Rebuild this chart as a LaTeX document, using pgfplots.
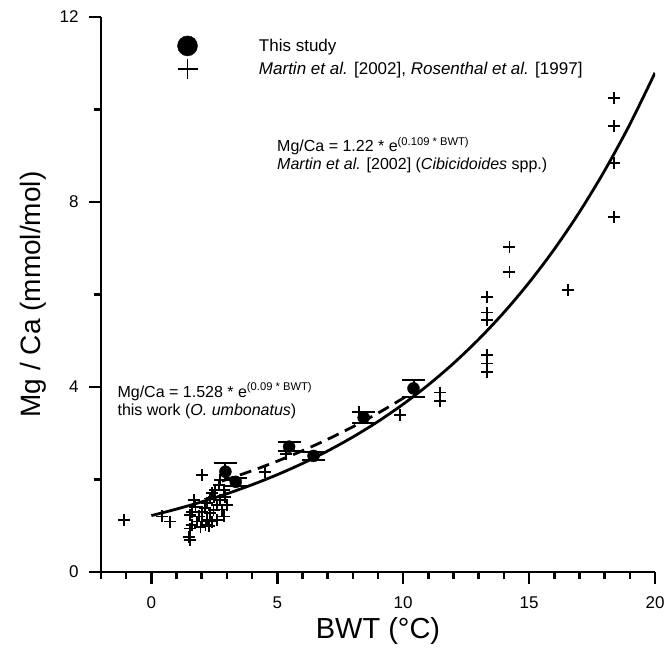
\documentclass[border=0pt]{standalone}
\usepackage{pgfplots}
\pgfplotsset{compat=1.18}
\usepackage{fontspec}
\setmainfont{Liberation Sans}
\begin{document}
\begin{tikzpicture}
\useasboundingbox (-101pt,-78pt) rectangle (565pt,572pt);
\begin{axis}[
 scale only axis, width=554pt, height=555pt,
 xmin=-2, xmax=20, ymin=0, ymax=12,
 axis lines=left, axis line style={line width=2.6pt, -},
 xtick={0,5,10,15,20}, minor xtick={-2,-1,1,2,3,4,6,7,8,9,11,12,13,14,16,17,18,19},
 ytick={0,4,8,12}, minor ytick={2,6,10},
 tick align=outside, major tick length=12pt, minor tick length=7pt,
 every tick/.style={line width=2.6pt, black},
 every minor tick/.style={line width=2.6pt, black},
 tick label style={font=\fontsize{17}{20}\selectfont},
 xticklabel style={yshift=-9pt},
 yticklabel style={xshift=-7pt},
 /pgf/number format/assume math mode=true,
 xlabel={BWT (°C)}, ylabel={Mg / Ca (mmol/mol)},
 every axis x label/.style={at={(axis description cs:0.5,-0.106)}, anchor=center, font=\fontsize{29}{33}\selectfont},
 every axis y label/.style={at={(axis description cs:-0.123,0.5)}, rotate=90, anchor=center, font=\fontsize{28}{32}\selectfont},
 legend style={draw=none, fill=none, at={(axis description cs:0.135,0.968)}, anchor=north west,
   font=\fontsize{17}{20}\selectfont, row sep=5pt, legend cell align=left},
 legend image post style={overlay},
]
% fit curves (values of the printed equations)
\addplot[line width=2.8pt, smooth, no marks, forget plot] coordinates {
(0,1.2200)(1,1.3605)(2,1.5172)(3,1.6919)(4,1.8867)(5,2.1040)(6,2.3463)(7,2.6165)
(8,2.9178)(9,3.2539)(10,3.6286)(11,4.0465)(12,4.5125)(13,5.0323)(14,5.6119)
(15,6.2581)(16,6.9789)(17,7.7826)(18,8.6790)(19,9.6786)(20,10.7925)};
\addplot[line width=2.8pt, smooth, no marks, dash pattern=on 12pt off 7pt, forget plot] coordinates {
(2.8,1.9660)(3,2.0017)(4,2.1901)(5,2.3964)(6,2.6221)(7,2.8690)(8,3.1391)(9,3.4348)(10,3.7583)(10.5,3.9312)};
% Martin et al. / Rosenthal et al.
\addplot[only marks, mark=+, mark size=6pt, line width=1.8pt, black, forget plot] coordinates {
(-1.1,1.12)(0.42,1.2)(0.73,1.09)(1.48,0.76)(1.52,0.69)(1.55,0.94)(1.61,1.02)(1.52,1.23)
(1.68,1.55)(1.61,1.30)(1.81,1.09)(1.88,1.20)(2.01,1.30)(2.01,2.10)(2.14,1.38)(2.21,1.49)
(2.34,1.59)(2.41,1.70)(2.54,1.77)(2.67,1.88)(2.74,1.99)(2.87,1.77)(2.94,1.63)(2.74,1.56)
(2.61,1.45)(2.47,1.34)(2.34,1.27)(3.00,1.45)(2.87,1.20)(2.61,1.12)(2.41,1.09)(2.21,1.12)
(2.01,1.09)(1.95,0.98)(2.15,1.02)(2.30,1.00)(2.80,1.35)(2.50,1.62)(1.75,1.40)
(4.5,2.17)(5.35,2.55)(8.23,3.45)(9.88,3.39)(11.47,3.88)(11.47,3.70)
(13.32,5.95)(13.32,5.61)(13.32,5.45)(13.32,4.69)(13.32,4.51)(13.32,4.33)
(14.22,7.03)(14.22,6.49)(16.55,6.10)(18.37,10.25)(18.37,9.65)(18.37,8.85)(18.37,7.68)};
% This study
\addplot[only marks, mark=*, mark size=6pt, black, forget plot,
  error bars/.cd, y dir=both, y explicit,
  error bar style={line width=2pt, black},
  error mark options={rotate=90, mark size=11.5pt, line width=2pt, black}]
 table[x=x, y=y, y error=e] {
x y e
2.94 2.17 0.18
3.35 1.95 0.08
5.47 2.71 0.10
6.44 2.51 0.09
8.43 3.34 0.12
10.41 3.97 0.18
};
\addlegendimage{only marks, mark=*, mark size=10pt, black}
\addlegendentry{\hspace{78pt}This study}
\addlegendimage{only marks, mark=+, mark size=10pt, line width=1.8pt, black}
\addlegendentry{\hspace{78pt}\textit{Martin et al.} [2002], \textit{Rosenthal et al.} [1997]}
% annotations
\node[anchor=base west, font=\fontsize{16}{19}\selectfont, inner sep=0pt] at (axis cs:4.99,9.09)
 {Mg/Ca = 1.22 * e\textsuperscript{(0.109 * BWT)}};
\node[anchor=base west, font=\fontsize{16}{19}\selectfont, inner sep=0pt] at (axis cs:4.99,8.70)
 {\textit{Martin et al.} [2002] (\textit{Cibicidoides} spp.)};
\node[anchor=base west, font=\fontsize{16}{19}\selectfont, inner sep=0pt] at (axis cs:-1.35,3.78)
 {Mg/Ca = 1.528 * e\textsuperscript{(0.09 * BWT)}};
\node[anchor=base west, font=\fontsize{16}{19}\selectfont, inner sep=0pt] at (axis cs:-1.35,3.38)
 {this work (\textit{O. umbonatus})};
\end{axis}
\end{tikzpicture}
\end{document}
